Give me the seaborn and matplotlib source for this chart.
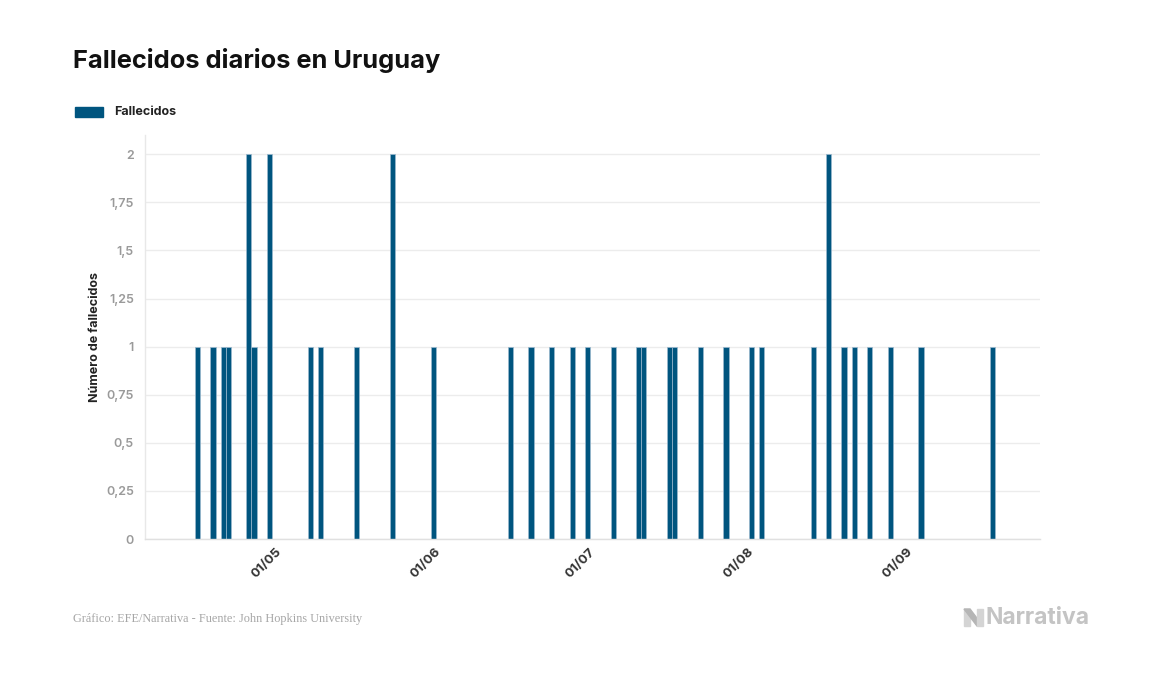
import pandas as pd
import matplotlib
matplotlib.use('Agg')
import matplotlib.pyplot as plt
import matplotlib.dates as mdates
import matplotlib.transforms as mtransforms
from matplotlib.patches import Rectangle, Polygon
import seaborn as sns

# Datos: días con fallecidos (el resto de días del periodo vale 0)
fechas = ['2020-04-14', '2020-04-17', '2020-04-19', '2020-04-20', '2020-04-24',
          '2020-04-25', '2020-04-28', '2020-05-06', '2020-05-08', '2020-05-15',
          '2020-05-22', '2020-05-30', '2020-06-14', '2020-06-18', '2020-06-22',
          '2020-06-26', '2020-06-29', '2020-07-04', '2020-07-09', '2020-07-10',
          '2020-07-15', '2020-07-16', '2020-07-21', '2020-07-26', '2020-07-31',
          '2020-08-02', '2020-08-12', '2020-08-15', '2020-08-18', '2020-08-20',
          '2020-08-23', '2020-08-27', '2020-09-02', '2020-09-16']
fallecidos = [1, 1, 1, 1, 2,
              1, 2, 1, 1, 1,
              2, 1, 1, 1, 1,
              1, 1, 1, 1, 1,
              1, 1, 1, 1, 1,
              1, 1, 2, 1, 1,
              1, 1, 1, 1]
inicio = '2020-04-12'
fin = '2020-09-17'

yticks = [0, 0.25, 0.5, 0.75, 1, 1.25, 1.5, 1.75, 2]
ytick_labels = ['0', '0,25', '0,5', '0,75', '1', '1,25', '1,5', '1,75', '2']

color_barra = '#00557F'

sns.set_theme(style='white')
plt.rcParams['font.family'] = ['Inter', 'DejaVu Sans']

df = pd.DataFrame({'fecha': pd.date_range(inicio, fin, freq='D')})
serie = pd.Series(fallecidos, index=pd.to_datetime(fechas))
df['fallecidos'] = df['fecha'].map(serie).fillna(0)
df['x'] = mdates.date2num(df['fecha'])

W, H = 1157, 674
fig = plt.figure(figsize=(W / 100, H / 100), dpi=100)
ax = fig.add_axes([145 / W, 135 / H, 895 / W, 404 / H])

sns.barplot(data=df, x='x', y='fallecidos', native_scale=True, width=1,
            color=color_barra, edgecolor='#9bb9cf', linewidth=0.5,
            saturation=1, ax=ax)

x0 = mdates.date2num(pd.Timestamp('2020-04-14'))
ax.set_xlim(x0 - 10.25, x0 + 164.2)
ax.xaxis.set_major_locator(mdates.MonthLocator())
ax.xaxis.set_major_formatter(mdates.DateFormatter('%d/%m'))
ax.set_xlabel('')

ax.set_ylim(0, 2.1)
ax.set_yticks(yticks)
ax.set_yticklabels(ytick_labels)
ax.set_ylabel('Número de fallecidos', fontsize=9, fontweight='bold', color='#222222')
ax.yaxis.set_label_coords(-0.049, 0.5)

ax.tick_params(axis='x', length=0, pad=5)
ax.tick_params(axis='y', length=0, pad=8)
desplaza = mtransforms.ScaledTranslation(-9 / 100, 0, fig.dpi_scale_trans)
for lab in ax.get_xticklabels():
    lab.set_rotation(45)
    lab.set_ha('right')
    lab.set_rotation_mode('anchor')
    lab.set_fontsize(9.5)
    lab.set_fontweight('bold')
    lab.set_color('#333333')
    lab.set_transform(lab.get_transform() + desplaza)
for lab in ax.get_yticklabels():
    lab.set_fontsize(9)
    lab.set_fontweight('semibold')
    lab.set_color('#9a9a9a')

ax.yaxis.grid(True, color='#ececec', linewidth=1)
ax.set_axisbelow(True)
for s in ['top', 'right']:
    ax.spines[s].set_visible(False)
ax.spines['left'].set_color('#e8e8e8')
ax.spines['bottom'].set_color('#e0e0e0')
ax.spines['left'].set_linewidth(1)
ax.spines['bottom'].set_linewidth(1)

# Título
fig.text(73 / W, 1 - 68 / H, 'Fallecidos diarios en Uruguay', fontsize=18.3,
         fontweight='bold', color='#111111', va='baseline', ha='left')

# Leyenda
fig.patches.append(Rectangle((75 / W, 1 - 117 / H), 28 / W, 10 / H,
                             transform=fig.transFigure, color=color_barra))
fig.text(114 / W, 1 - 112 / H, 'Fallecidos', fontsize=9, fontweight='bold',
         color='#222222', va='center', ha='left')

# Fuente
fig.text(73 / W, 1 - 619 / H, 'Gráfico: EFE/Narrativa - Fuente: John Hopkins University',
         family=['Liberation Serif', 'DejaVu Serif'], fontsize=8.8,
         color='#a6a6a6', va='center', ha='left')

# Logo
def px(x, y):
    return (x / W, 1 - y / H)

fig.patches.append(Polygon([px(964, 609), px(970, 609), px(970, 626), px(964, 626)],
                           closed=True, transform=fig.transFigure, color='#d4d4d4'))
fig.patches.append(Polygon([px(964, 609), px(970, 609), px(983, 626), px(977, 626)],
                           closed=True, transform=fig.transFigure, color='#b5b5b5'))
fig.patches.append(Polygon([px(977, 609), px(983, 609), px(983, 626), px(977, 626)],
                           closed=True, transform=fig.transFigure, color='#d4d4d4'))
fig.text(985 / W, 1 - 618 / H, 'Narrativa', fontsize=16.5, fontweight='bold',
         color='#c4c4c4', va='center', ha='left')

fig.savefig('out.png', dpi=100)
